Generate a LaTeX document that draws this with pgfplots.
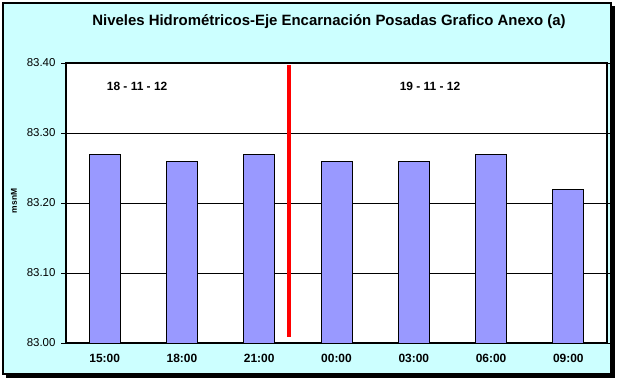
\documentclass[border=0pt]{standalone}
\usepackage{pgfplots}
\pgfplotsset{compat=1.18}
\usepackage{fontspec}
\setmainfont{Liberation Sans}
\definecolor{bgc}{HTML}{CCFFFF}
\definecolor{barc}{HTML}{9999FF}
\begin{document}
\begin{tikzpicture}[x=1bp,y=1bp]
\useasboundingbox (0,0) rectangle (619,383);
\fill[black] (6,5) rectangle (615,377);
\fill[bgc,draw=black,line width=1.5bp] (3,9) rectangle (611,380);
\node at (329,361) {\fontsize{15}{17}\selectfont\bfseries Niveles Hidrométricos-Eje Encarnación Posadas Grafico Anexo (a)};
\node[rotate=90] at (14,182) {\fontsize{8.5}{10}\selectfont\bfseries msnM};
\begin{axis}[at={(66bp,40bp)}, anchor=south west, scale only axis,
  width=541bp, height=280bp,
  xmin=-0.5, xmax=6.5, ymin=83, ymax=83.4,
  axis background/.style={fill=white},
  axis line style={black, line width=1.2bp},
  ytick={83,83.1,83.2,83.3,83.4},
  yticklabels={83.00,83.10,83.20,83.30,83.40},
  xtick={0,1,2,3,4,5,6},
  xticklabels={15:00,18:00,21:00,00:00,03:00,06:00,09:00},
  minor xtick={-0.5,0.5,1.5,2.5,3.5,4.5,5.5,6.5},
  tick align=outside, major tick length=5bp, minor tick length=5bp,
  xtick style={draw=none},
  ytick style={black, line width=0.8bp},
  minor x tick style={black, line width=0.8bp},
  ymajorgrids=true, major grid style={black, line width=0.8bp},
  yticklabel style={font=\fontsize{11.5}{13}\selectfont, xshift=-2bp},
  xticklabel style={font=\fontsize{12}{14}\selectfont\bfseries, yshift=-3bp},
  clip=false,
]
\addplot[ybar, bar width=31bp, bar shift=0pt, fill=barc, draw=black, line width=0.8bp]
  coordinates {(0,83.27) (1,83.26) (2,83.27) (3,83.26) (4,83.26) (5,83.27) (6,83.22)};
\addplot[red, line width=4bp] coordinates {(2.385,83.009) (2.385,83.397)};
\node at (axis cs:0.42,83.367) {\fontsize{12}{14}\selectfont\bfseries 18 - 11 - 12};
\node at (axis cs:4.21,83.367) {\fontsize{12}{14}\selectfont\bfseries 19 - 11 - 12};
\end{axis}
\end{tikzpicture}
\end{document}
